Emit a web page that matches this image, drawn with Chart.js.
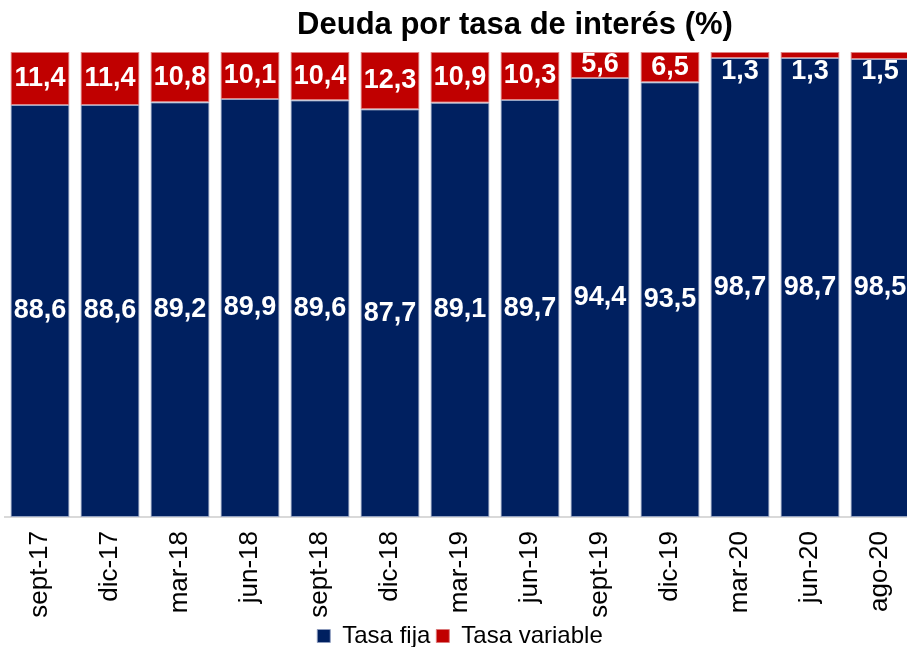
<!DOCTYPE html>
<html>
<head>
<meta charset="utf-8">
<script src="https://cdn.jsdelivr.net/npm/chart.js@4"></script>
<style>
  html, body { margin: 0; padding: 0; background: #fff; overflow: hidden; }
  #wrap { width: 915px; height: 647px; }
</style>
</head>
<body>
<div id="wrap"><canvas id="myChart" width="915" height="647"></canvas></div>
<script>
  const categories = ['sept-17', 'dic-17', 'mar-18', 'jun-18', 'sept-18', 'dic-18', 'mar-19', 'jun-19', 'sept-19', 'dic-19', 'mar-20', 'jun-20', 'ago-20'];
  const tasaFija = [88.6, 88.6, 89.2, 89.9, 89.6, 87.7, 89.1, 89.7, 94.4, 93.5, 98.7, 98.7, 98.5];
  const tasaVariable = [11.4, 11.4, 10.8, 10.1, 10.4, 12.3, 10.9, 10.3, 5.6, 6.5, 1.3, 1.3, 1.5];
  const chartTitle = 'Deuda por tasa de interés (%)';

  const FONT = '"Liberation Sans", Arial, sans-serif';

  // title drawn by hand: in the original it sits right of centre
  const titlePlugin = {
    id: 'titleAt',
    afterDraw(chart) {
      const ctx = chart.ctx;
      ctx.save();
      ctx.font = 'bold 31px ' + FONT;
      ctx.fillStyle = '#000';
      ctx.textAlign = 'center';
      ctx.textBaseline = 'alphabetic';
      ctx.fillText(chartTitle, 515, 34);
      ctx.restore();
    }
  };

  // white value labels in the middle of each segment
  const valueLabels = {
    id: 'valueLabels',
    afterDatasetsDraw(chart) {
      const ctx = chart.ctx;
      ctx.save();
      ctx.font = 'bold 27px ' + FONT;
      ctx.fillStyle = '#fff';
      ctx.textAlign = 'center';
      ctx.textBaseline = 'middle';
      chart.data.datasets.forEach((ds, i) => {
        const meta = chart.getDatasetMeta(i);
        meta.data.forEach((bar, j) => {
          const top = Math.min(bar.y, bar.base);
          const h = Math.abs(bar.base - bar.y);
          const y = h < 24 ? top + 20 : top + h / 2;
          ctx.fillText(ds.data[j].toFixed(1).replace('.', ','), bar.x, y);
        });
      });
      ctx.restore();
    }
  };

  const ctx = document.getElementById('myChart').getContext('2d');
  const myChart = new Chart(ctx, {
    type: 'bar',
    data: {
      labels: categories,
      datasets: [
        {
          label: 'Tasa fija',
          data: tasaFija,
          backgroundColor: '#002060',
          borderColor: 'rgba(140,155,190,0.9)',
          borderWidth: 1,
          borderSkipped: false,
          barPercentage: 0.843,
          categoryPercentage: 1
        },
        {
          label: 'Tasa variable',
          data: tasaVariable,
          backgroundColor: '#C00000',
          borderColor: 'rgba(220,120,120,0.9)',
          borderWidth: 1,
          borderSkipped: false,
          barPercentage: 0.843,
          categoryPercentage: 1
        }
      ]
    },
    options: {
      responsive: false,
      animation: false,
      layout: { padding: { top: 52, left: 5, right: 0, bottom: -11 } },
      plugins: {
        title: { display: false },
        tooltip: { enabled: false },
        legend: {
          position: 'bottom',
          labels: {
            boxWidth: 13,
            boxHeight: 13,
            padding: 6,
            color: '#000',
            font: { family: FONT, size: 24 }
          }
        }
      },
      scales: {
        x: {
          stacked: true,
          grid: { display: false, drawTicks: false },
          border: { display: true, color: '#d9d9d9', width: 2 },
          ticks: {
            color: '#000',
            font: { family: FONT, size: 26 },
            minRotation: 90,
            maxRotation: 90,
            padding: 14,
            autoSkip: false
          },
          afterFit(scale) {
            scale.height = 101;
            scale.paddingLeft = 0;
            scale.paddingRight = 0;
          }
        },
        y: {
          stacked: true,
          display: false,
          min: 0,
          max: 100
        }
      }
    },
    plugins: [titlePlugin, valueLabels]
  });
</script>
</body>
</html>
